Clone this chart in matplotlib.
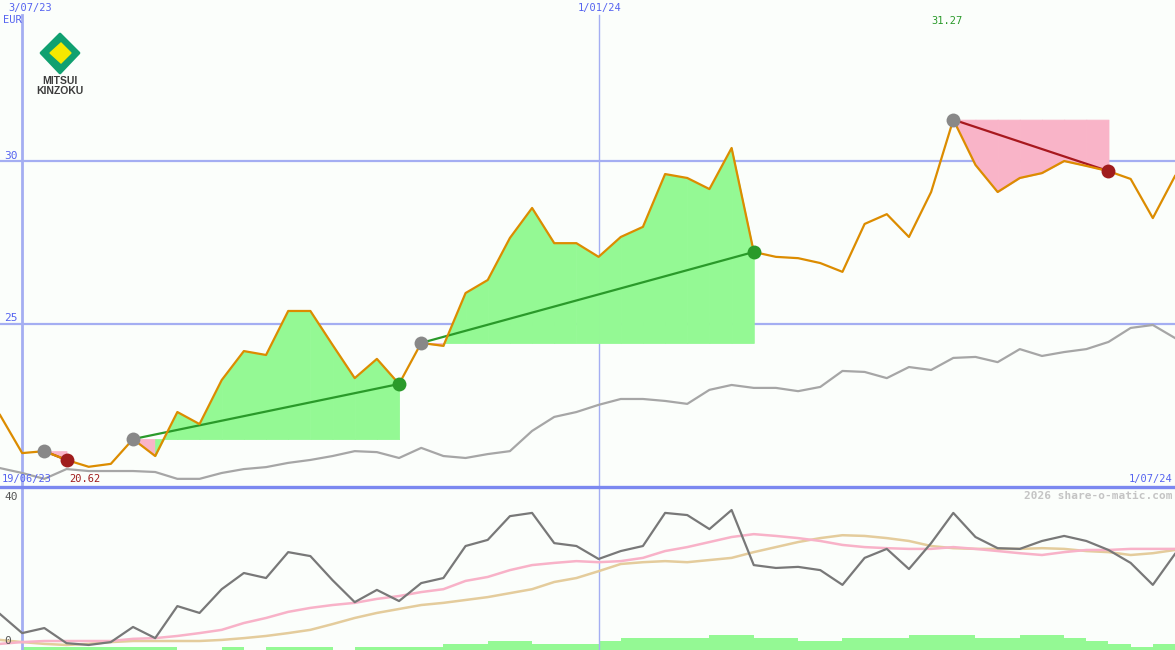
import matplotlib
matplotlib.use("Agg")
import matplotlib.pyplot as plt
from matplotlib.patches import Polygon
import pandas as pd

# weekly closes, 26/06/23 .. 1/07/24
weeks = pd.date_range("2023-06-26", "2024-07-01", freq="7D")

price = [22.21, 21.04, 21.10, 20.83, 20.62, 20.71, 21.47, 20.95, 22.30, 21.93,
         23.28, 24.17, 24.05, 25.40, 25.40, 24.36, 23.34, 23.93, 23.16, 24.42,
         24.33, 25.95, 26.35, 27.64, 28.56, 27.48, 27.48, 27.06, 27.67, 27.98,
         29.60, 29.48, 29.14, 30.40, 27.21, 27.06, 27.02, 26.87, 26.60, 28.07,
         28.37, 27.67, 29.05, 31.27, 29.88, 29.05, 29.48, 29.63, 30.00, 29.85,
         29.69, 29.45, 28.25, 29.54]

# comparison index (rebased)
compare = [20.58, 20.43, 20.25, 20.55, 20.49, 20.49, 20.49, 20.46, 20.25, 20.25,
           20.43, 20.55, 20.61, 20.74, 20.83, 20.95, 21.10, 21.07, 20.89, 21.20,
           20.95, 20.89, 21.01, 21.10, 21.72, 22.15, 22.30, 22.52, 22.70, 22.70,
           22.64, 22.55, 22.98, 23.13, 23.04, 23.04, 22.94, 23.07, 23.56, 23.53,
           23.34, 23.68, 23.59, 23.96, 23.99, 23.83, 24.23, 24.02, 24.14, 24.23,
           24.45, 24.88, 24.97, 24.57]

# lower panel indicator
osc = [7.5, 2.2, 3.6, -0.6, -1.1, -0.3, 3.9, 0.8, 9.7, 7.8,
       14.4, 18.9, 17.5, 24.7, 23.6, 16.9, 10.8, 14.2, 11.1, 16.1,
       17.5, 26.4, 28.1, 34.7, 35.6, 27.2, 26.4, 22.8, 25.0, 26.4,
       35.6, 35.0, 31.1, 36.4, 21.1, 20.3, 20.6, 19.7, 15.6, 23.1,
       25.6, 20.0, 27.2, 35.6, 28.9, 25.8, 25.6, 27.8, 29.2, 27.8,
       25.3, 21.7, 15.6, 24.2]
osc_fast = [-0.8, -0.3, 0.0, 0.0, 0.0, 0.0, 0.6, 0.8, 1.4, 2.2,
            3.1, 5.0, 6.4, 8.1, 9.2, 10.0, 10.6, 11.7, 12.5, 13.6,
            14.4, 16.7, 17.8, 19.7, 21.1, 21.7, 22.2, 21.9, 22.2, 23.1,
            25.0, 26.1, 27.5, 28.9, 29.7, 29.2, 28.6, 27.8, 26.7, 26.1,
            25.8, 25.6, 25.6, 26.1, 25.6, 25.0, 24.4, 23.9, 24.7, 25.3,
            25.3, 25.6, 25.6, 25.6]
osc_slow = [0.3, -0.3, -0.8, -1.1, -0.8, -0.3, 0.0, 0.0, 0.0, 0.0,
            0.3, 0.8, 1.4, 2.2, 3.1, 4.7, 6.4, 7.8, 8.9, 10.0,
            10.6, 11.4, 12.2, 13.3, 14.4, 16.4, 17.5, 19.4, 21.4, 21.9,
            22.2, 21.9, 22.5, 23.1, 24.7, 26.1, 27.5, 28.6, 29.4, 29.2,
            28.6, 27.8, 26.4, 25.8, 25.6, 25.6, 25.6, 25.8, 25.6, 25.0,
            24.7, 23.9, 24.4, 25.3]
volume = [0, 1, 1, 1, 1, 1, 1, 1, 0, 0,
          1, 0, 1, 1, 1, 0, 1, 1, 1, 1,
          2, 2, 3, 3, 2, 2, 2, 3, 4, 4,
          4, 4, 5, 5, 4, 4, 3, 3, 4, 4,
          4, 5, 5, 5, 4, 4, 5, 5, 4, 3,
          2, 1, 2, 0]

# trade signals: (entry week index, exit week index)
trades = [(2, 3), (6, 18), (19, 34), (43, 50)]

start_label = "3/07/23"
mid_label = "1/01/24"
first_label = "19/06/23"
last_label = "1/07/24"

W, H = 1175, 650
bg = "#fbfefb"
blue = "#5563f0"
grid = "#a4aef2"
green_fill = "#94f994"
pink_fill = "#f9b4c8"
orange = "#dc8c00"

fig = plt.figure(figsize=(W / 100, H / 100), dpi=100, facecolor=bg)
ax = fig.add_axes([0, 163 / H, 1, 487 / H], facecolor=bg)
ax2 = fig.add_axes([0, 0, 1, 163 / H], facecolor=bg)
axv = ax2.twinx()

mono = "DejaVu Sans Mono"

def fpos(x, y):
    return x / W, 1 - y / H

# ---- main panel
ax.axhline(30, color=grid, lw=1.6, zorder=1)
ax.axhline(25, color=grid, lw=1.6, zorder=1)
ax.axvline(weeks[1], ymax=(487 - 15) / 487, color=grid, lw=2, zorder=1)
ax.axvline(weeks[27], ymax=(487 - 15) / 487, color=grid, lw=1, zorder=1)

for a, b in trades:
    base = price[a]
    for i in range(a, b):
        c = green_fill if price[i + 1] > base else pink_fill
        ax.fill_between(weeks[i:i + 2], base, price[i:i + 2], facecolor=c,
                        edgecolor=c, lw=0.6, zorder=2)

ax.plot(weeks, compare, color="#a6a6a6", lw=1.6, zorder=3)

for a, b in trades:
    win = price[b] > price[a]
    lc = "#2a9a2a" if win else "#a8181e"
    ax.plot([weeks[a], weeks[b]], [price[a], price[b]], color=lc, lw=1.6, zorder=4)

ax.plot(weeks, price, color=orange, lw=1.6, zorder=5)

for a, b in trades:
    win = price[b] > price[a]
    ax.plot(weeks[a], price[a], "o", ms=10, color="#888888", mec="none", zorder=6)
    ax.plot(weeks[b], price[b], "o", ms=10, color="#2a9a2a" if win else "#a01c1c",
            mec="none", zorder=6)

ax.set_xlim(weeks[0], weeks[-1])
ax.set_ylim(20.0, 34.94)
ax.axis("off")

# ---- lower panel
axv.bar(weeks, volume, width=7, align="edge", color=green_fill, lw=0, zorder=1)
axv.set_ylim(0, 163 / 3)
axv.axis("off")

ax2.axvline(weeks[1], color=grid, lw=2, zorder=1)
ax2.axvline(weeks[27], color=grid, lw=1, zorder=1)
ax2.plot(weeks, osc_slow, color="#e4cc9c", lw=1.8, zorder=3)
ax2.plot(weeks, osc_fast, color="#f8b2c8", lw=1.8, zorder=3)
ax2.plot(weeks, osc, color="#787878", lw=1.6, zorder=4)
ax2.set_xlim(weeks[0], weeks[-1])
ax2.set_ylim(-2.5, 42.8)
ax2.axis("off")
ax2.set_zorder(axv.get_zorder() + 1)
ax2.patch.set_visible(False)

# separator
fig.add_artist(plt.Line2D([0, 1], [1 - 487 / H, 1 - 487 / H], color="#7b88f0", lw=2.4))

# ---- texts
fs = 7.5
fig.text(*fpos(8, 8), start_label, color=blue, fontsize=fs, family=mono, va="center")
fig.text(*fpos(22, 20), "EUR", color=blue, fontsize=fs, family=mono, va="center", ha="right")
fig.text(*fpos(600, 8), mid_label, color=blue, fontsize=fs, family=mono, va="center", ha="center")
fig.text(*fpos(18, 156), "30", color=blue, fontsize=8, family=mono, va="center", ha="right")
fig.text(*fpos(18, 318), "25", color=blue, fontsize=8, family=mono, va="center", ha="right")
fig.text(*fpos(2, 479), first_label, color=blue, fontsize=fs, family=mono, va="center")
fig.text(*fpos(1172, 479), last_label, color=blue, fontsize=fs, family=mono, va="center", ha="right")
fig.text(*fpos(947, 21), f"{max(price):.2f}", color="#2a9a2a", fontsize=fs, family=mono,
         va="center", ha="center")
fig.text(*fpos(69, 479), f"{min(price):.2f}", color="#a01c1c", fontsize=fs, family=mono,
         va="center")
fig.text(*fpos(1172, 496), "2026 share-o-matic.com", color="#c4c4c4", fontsize=8,
         family=mono, weight="bold", va="center", ha="right")
fig.text(*fpos(18, 497), "40", color="#555555", fontsize=8, family=mono, va="center", ha="right")
fig.text(*fpos(11, 641), "0", color="#555555", fontsize=8, family=mono, va="center", ha="right")

# ---- logo
outer = [fpos(41, 53), fpos(60, 34), fpos(79, 53), fpos(60, 73)]
inner = [fpos(50, 53), fpos(61, 43), fpos(71, 53), fpos(61, 63)]
fig.add_artist(Polygon(outer, closed=True, color="#10a070", transform=fig.transFigure,
                       joinstyle="round", lw=2))
fig.add_artist(Polygon(inner, closed=True, color="#f6e800", transform=fig.transFigure))
fig.text(*fpos(60, 81), "MITSUI", color="#3c3c3c", fontsize=7.5, weight="bold",
         family="Liberation Sans", ha="center", va="center")
fig.text(*fpos(60, 91), "KINZOKU", color="#3c3c3c", fontsize=7.5, weight="bold",
         family="Liberation Sans", ha="center", va="center")

fig.savefig("out.png", dpi=100, facecolor=bg)
